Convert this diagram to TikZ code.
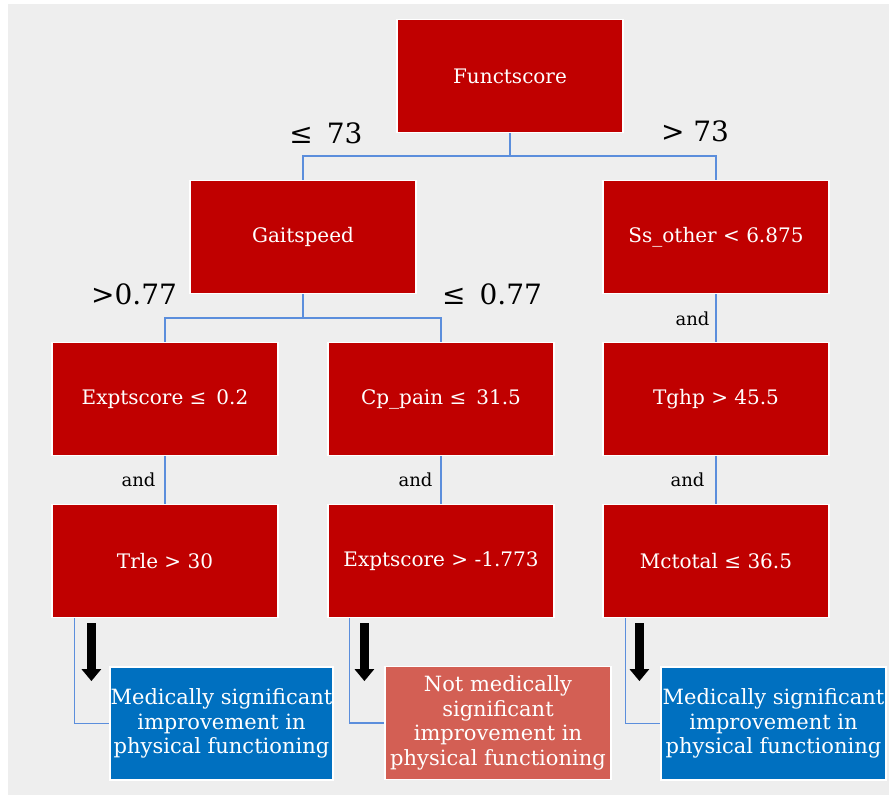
\documentclass[tikz,border=0pt]{standalone}
\usepackage{fontspec}
\setmainfont{DejaVu Serif}
\usetikzlibrary{arrows.meta,positioning}
\definecolor{boxred}{HTML}{C00000}
\definecolor{leafblue}{HTML}{0070C0}
\definecolor{leafred}{HTML}{D35F54}
\definecolor{linkblue}{HTML}{5B8EDC}
\definecolor{panel}{HTML}{EEEEEE}
\begin{document}
\begin{tikzpicture}[x=1pt,y=-1pt,
  split/.style={fill=boxred,draw=white,line width=1.2pt,text=white,minimum width=226pt,minimum height=113pt,inner sep=0pt,font=\fontsize{20}{24}\selectfont},
  leaf/.style={draw=white,line width=1.2pt,text=white,minimum width=224pt,minimum height=113pt,inner sep=0pt,align=center,font=\fontsize{21}{24.5}\selectfont},
  link/.style={draw=linkblue,line width=1.5pt},
  cut/.style={font=\fontsize{28}{32}\selectfont},
  andlbl/.style={font=\fontsize{18}{22}\selectfont,anchor=east},
  down/.style={line width=9pt,-{Triangle[length=12pt,width=19pt]}}]
\useasboundingbox (0,0) rectangle (889,795);
\fill[panel] (8,4) rectangle (889,795);
% tree
\node[split] (funct) at (510,76) {Functscore};
\node[split] (gait) at (303,237) {Gaitspeed};
\node[split] (ss) at (716,237) {Ss\_other < 6.875};
\node[split] (expt) at (165,399) {Exptscore ≤\enspace 0.2};
\node[split] (cp) at (441,399) {Cp\_pain ≤\enspace 31.5};
\node[split] (tghp) at (716,399) {Tghp > 45.5};
\node[split] (trle) at (165,561) {Trle > 30};
\node[split] (expttwo) at (441,561) {Exptscore > -1.773};
\node[split] (mct) at (716,561) {Mctotal ≤ 36.5};
% outcomes
\node[leaf,fill=leafblue,minimum width=223pt] (leafa) at (221.5,723.5) {Medically significant\\improvement in\\physical functioning};
\node[leaf,fill=leafred,minimum width=226pt] (leafb) at (498,723) {Not medically\\significant\\improvement in\\physical functioning};
\node[leaf,fill=leafblue,minimum width=225pt] (leafc) at (773.5,723.5) {Medically significant\\improvement in\\physical functioning};
% cut values
\node[cut] (lefttop) at (326,133) {≤\enspace 73};
\node[cut] (righttop) at (695,131) {> 73};
\node[cut] (leftmid) at (134,294) {>0.77};
\node[cut] (rightmid) at (492,294) {≤\enspace 0.77};
\node[andlbl] (anda) at (713,319) {and};
\node[andlbl] (andb) at (159,480) {and};
\node[andlbl] (andc) at (436,480) {and};
\node[andlbl] (andd) at (708,480) {and};
% connectors
\draw[link] (funct.south) -- ++(0,23) -| (gait.north);
\draw[link] (funct.south) -- ++(0,23) -| (ss.north);
\draw[link] (gait.south) -- ++(0,24) -| (expt.north);
\draw[link] (gait.south) -- ++(0,24) -| (cp.north);
\draw[link] (ss) -- (tghp);
\draw[link] (tghp) -- (mct);
\draw[link] (expt) -- (trle);
\draw[link] (cp) -- (expttwo);
\draw[link] ([xshift=23pt]trle.south west) |- (leafa.west);
\draw[link] ([xshift=22pt]expttwo.south west) |- (leafb.west);
\draw[link] ([xshift=23pt]mct.south west) |- (leafc.west);
\draw[down] ([xshift=40pt,yshift=-5pt]trle.south west) -- ++(0,58);
\draw[down] ([xshift=37pt,yshift=-5pt]expttwo.south west) -- ++(0,58);
\draw[down] ([xshift=37pt,yshift=-5pt]mct.south west) -- ++(0,58);
\end{tikzpicture}
\end{document}
